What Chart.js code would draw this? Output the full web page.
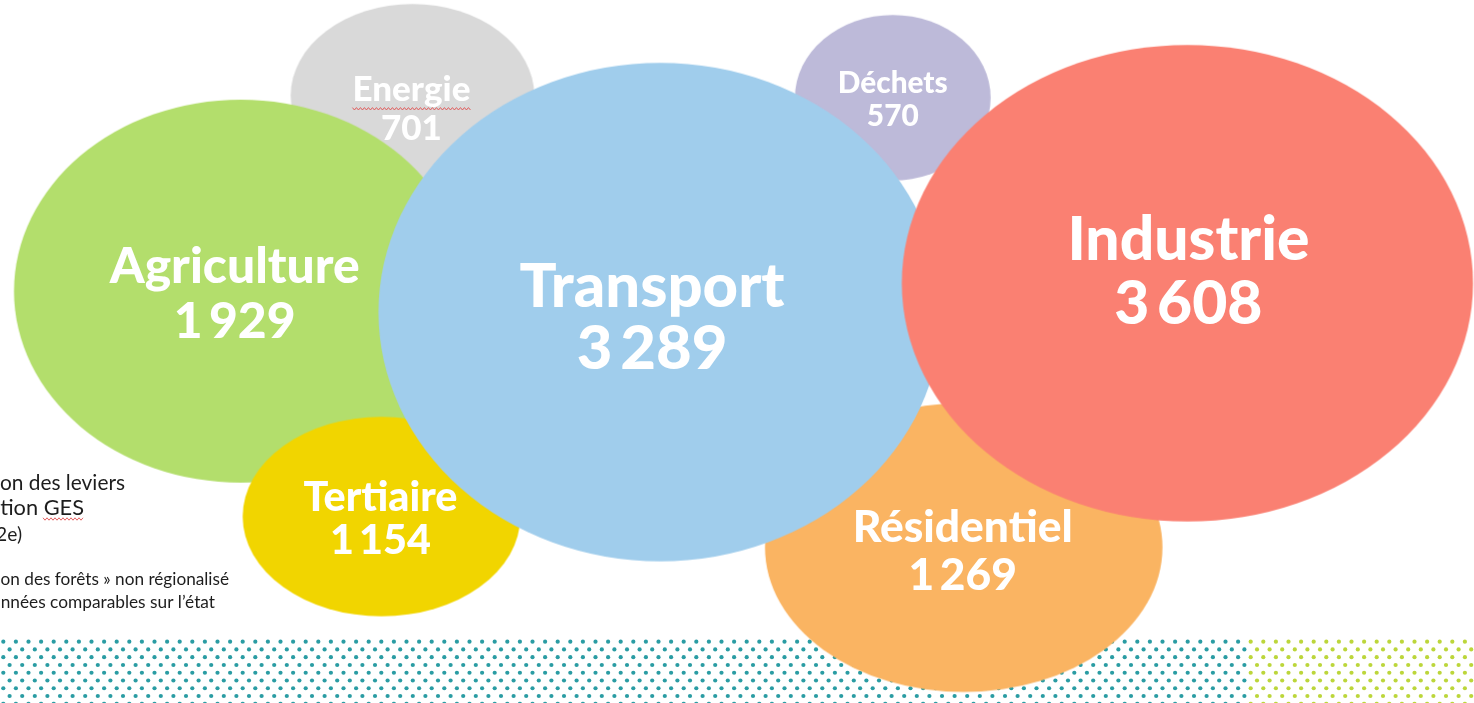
<!DOCTYPE html>
<html lang="fr">
<head>
<meta charset="utf-8">
<title>Émissions de GES par secteur</title>
<script src="https://cdn.jsdelivr.net/npm/chart.js@4.4.1/dist/chart.umd.min.js"></script>
<style>
  html, body { margin: 0; padding: 0; background: #fff; overflow: hidden; }
  #wrap { position: relative; width: 1474px; height: 703px; }
</style>
</head>
<body>
<div id="wrap"><canvas id="bulles"></canvas></div>
<script>
// --- données (kt CO2e) ---
const secteurs = ['Energie', 'Agriculture', 'Tertiaire', 'Déchets', 'Résidentiel', 'Transport', 'Industrie'];
const emissions = [701, 1929, 1154, 570, 1269, 3289, 3608];

// --- mise en page des bulles (dans l'ordre de dessin, unités des axes = px du visuel) ---
const bulleX = [412, 240, 381, 893, 964, 660, 1188];
const bulleY = [95, 291, 517, 97, 548, 312, 283];
const rayonX = [122, 227, 139, 98, 199, 282, 286];
const rayonY = [92, 192, 100, 83, 145, 250, 239];
const couleurs = ['#D9D9D9', '#B3DE6C', '#F1D500', '#BDBAD9', '#FAB462', '#A0CDEC', '#FA8072'];

// étiquettes : centre du bloc, largeur du titre, écart entre les 2 lignes
const texteX = [411, 234, 380, 893, 963, 652, 1189];
const texteY = [107, 292, 518, 98, 551, 316, 270];
const largeurTitre = [118, 250, 154, 110, 220, 265, 242];
const interligne = [39, 55, 43, 33, 48, 62, 64];

// texte de gauche (coupé par le bord) : bord droit et largeur visible
const notesGauche = [
  { txt: 'on des leviers', droite: 125, largeur: 125, y: 490 },
  { txt: 'tion GES', droite: 84, largeur: 84, y: 515 },
  { txt: '2e)', droite: 22, largeur: 26, y: 541 },
  { txt: 'on des forêts » non régionalisé', droite: 229, largeur: 229, y: 585 },
  { txt: 'nnées comparables sur l’état', droite: 215, largeur: 214, y: 608 }
];

const POLICE = 'Lato, "Open Sans", sans-serif';

function formatFr(v) {
  return String(v).replace(/\B(?=(\d{3})+(?!\d))/g, '\u2009');
}

// dessine une ellipse dans un petit canvas utilisé comme pointStyle
function ellipse(ctx) {
  const chart = ctx.chart;
  const i = ctx.dataIndex;
  const sx = chart.scales.x, sy = chart.scales.y;
  if (!sx || !sy) return 'circle';
  const w = Math.abs(sx.getPixelForValue(bulleX[i] + rayonX[i]) - sx.getPixelForValue(bulleX[i] - rayonX[i]));
  const h = Math.abs(sy.getPixelForValue(bulleY[i] + rayonY[i]) - sy.getPixelForValue(bulleY[i] - rayonY[i]));
  const c = document.createElement('canvas');
  c.width = Math.ceil(w) + 2;
  c.height = Math.ceil(h) + 2;
  const g = c.getContext('2d');
  g.fillStyle = couleurs[i];
  g.beginPath();
  g.ellipse(c.width / 2, c.height / 2, w / 2, h / 2, 0, 0, Math.PI * 2);
  g.fill();
  return c;
}

function vague(ctx, x0, x1, y) {
  ctx.beginPath();
  for (let x = x0, k = 0; x <= x1; x += 2, k++) {
    const yy = y + (k % 2 ? 1.2 : -1.2);
    if (k === 0) ctx.moveTo(x, yy); else ctx.lineTo(x, yy);
  }
  ctx.stroke();
}

// fond : trame de points + texte de gauche
const fond = {
  id: 'fond',
  beforeDatasetsDraw(chart) {
    const ctx = chart.ctx;
    ctx.save();
    const pasX = 12.6, pasY = 7.76;
    for (let r = 0; r < 9; r++) {
      const y = 641.7 + r * pasY;
      const dx = (r % 2) ? 9.6 : 3.3;
      for (let x = dx; x < 1480; x += pasX) {
        ctx.fillStyle = x < 1250 ? '#2A9CA3' : '#BCD63A';
        ctx.beginPath();
        ctx.arc(x, y, 2.1, 0, Math.PI * 2);
        ctx.fill();
      }
    }
    ctx.fillStyle = '#1d1d1d';
    ctx.textAlign = 'right';
    ctx.textBaseline = 'alphabetic';
    notesGauche.forEach(n => {
      ctx.font = '20px ' + POLICE;
      const t = 20 * n.largeur / ctx.measureText(n.txt).width;
      ctx.font = t.toFixed(1) + 'px ' + POLICE;
      ctx.fillText(n.txt, n.droite, n.y);
    });
    // soulignement ondulé sous « GES »
    ctx.strokeStyle = '#E05050';
    ctx.lineWidth = 0.9;
    vague(ctx, 43, 84, 519);
    ctx.restore();
  }
};

// étiquettes blanches dans les bulles
const etiquettes = {
  id: 'etiquettes',
  afterDatasetsDraw(chart) {
    const ctx = chart.ctx;
    const sx = chart.scales.x, sy = chart.scales.y;
    ctx.save();
    ctx.textAlign = 'center';
    ctx.textBaseline = 'alphabetic';
    secteurs.forEach((nom, i) => {
      ctx.font = '900 40px ' + POLICE;
      const taille = 40 * largeurTitre[i] / ctx.measureText(nom).width;
      ctx.font = '900 ' + taille.toFixed(1) + 'px ' + POLICE;
      const x = sx.getPixelForValue(texteX[i]);
      const y = sy.getPixelForValue(texteY[i]);
      const cap = taille * 0.36;
      ctx.fillStyle = '#ffffff';
      ctx.fillText(nom, x, y - interligne[i] / 2 + cap);
      ctx.fillText(formatFr(emissions[i]), x, y + interligne[i] / 2 + cap);
      if (nom === 'Energie') {
        ctx.strokeStyle = '#E05050';
        ctx.lineWidth = 0.9;
        vague(ctx, x - largeurTitre[i] / 2, x + largeurTitre[i] / 2, y - interligne[i] / 2 + cap + 8);
      }
    });
    ctx.restore();
  }
};

new Chart(document.getElementById('bulles'), {
  type: 'scatter',
  data: {
    labels: secteurs,
    datasets: [{
      label: 'Émissions de GES (kt CO2e)',
      data: secteurs.map((s, i) => ({ x: bulleX[i], y: bulleY[i], v: emissions[i] })),
      pointStyle: ellipse,
      pointRadius: 1,
      pointHoverRadius: 1,
      borderWidth: 0,
      clip: false
    }]
  },
  options: {
    responsive: true,
    maintainAspectRatio: false,
    animation: false,
    events: [],
    layout: { padding: 0 },
    plugins: {
      legend: { display: false },
      tooltip: { enabled: false }
    },
    scales: {
      x: { type: 'linear', display: false, min: 0, max: 1474 },
      y: { type: 'linear', display: false, min: 0, max: 703, reverse: true }
    }
  },
  plugins: [fond, etiquettes]
});
</script>
</body>
</html>
